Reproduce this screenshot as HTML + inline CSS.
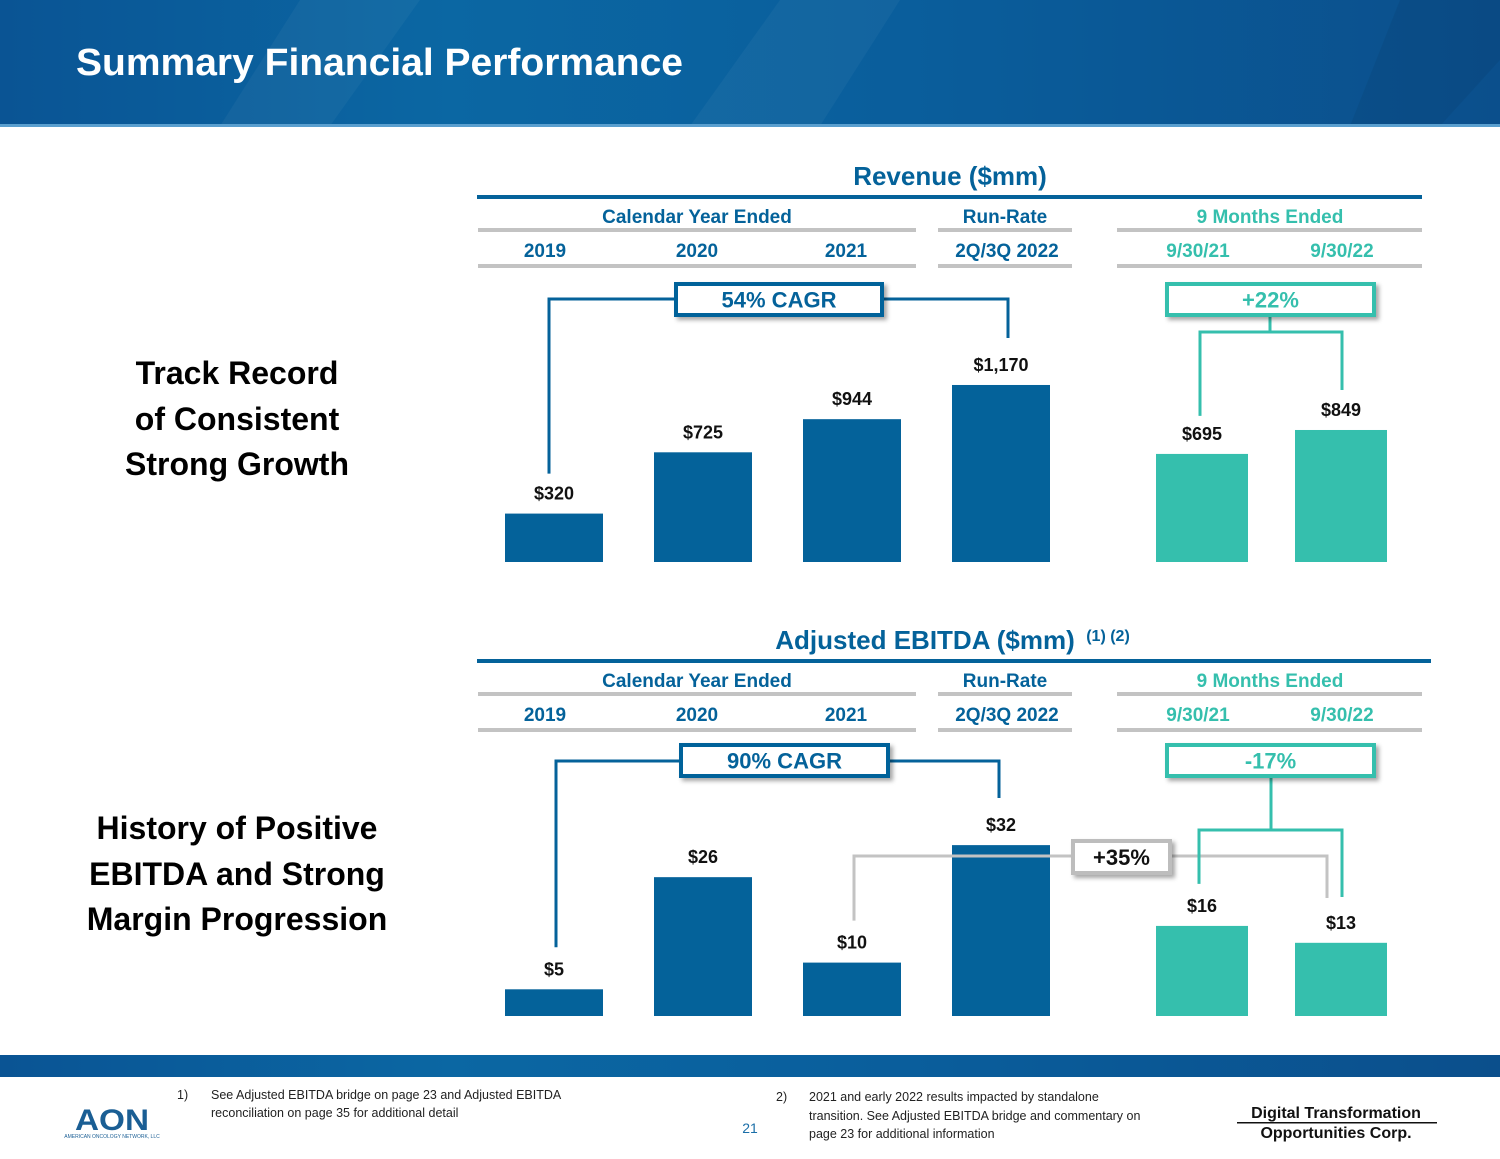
<!DOCTYPE html>
<html><head><meta charset="utf-8">
<style>
html,body{margin:0;padding:0;background:#fff;}
body{width:1500px;height:1159px;position:relative;overflow:hidden;font-family:"Liberation Sans",sans-serif;}
svg{position:absolute;left:0;top:0;}
</style></head>
<body>
<svg id="chart" width="1500" height="1159" viewBox="0 0 1500 1159" xmlns="http://www.w3.org/2000/svg">
<defs>
<linearGradient id="hdr" x1="0" y1="0" x2="1" y2="0">
<stop offset="0" stop-color="#0a5494"/><stop offset="0.3" stop-color="#0b67a3"/><stop offset="0.6" stop-color="#0a5e9c"/><stop offset="1" stop-color="#0b4f8c"/></linearGradient>
<filter id="sh" x="-10%" y="-30%" width="130%" height="170%"><feDropShadow dx="3" dy="3" stdDeviation="2" flood-color="#000" flood-opacity="0.35"/></filter>
</defs>
<rect x="0" y="0" width="1500" height="126" fill="url(#hdr)"/>
<polygon points="300,0 420,0 330,126 220,126" fill="#ffffff" opacity="0.04"/>
<polygon points="780,0 900,0 820,126 690,126" fill="#ffffff" opacity="0.04"/>
<polygon points="1400,0 1500,0 1500,60 1440,126 1350,126" fill="#000" opacity="0.05"/>
<text x="76" y="75" fill="#fff" font-size="38" font-weight="bold" textLength="607" lengthAdjust="spacingAndGlyphs">Summary Financial Performance</text>
<rect x="0" y="124" width="1500" height="3" fill="#5a9fcf"/>

<g font-weight="bold" font-size="32" fill="#000" text-anchor="middle">
<text x="237" y="384">Track Record</text>
<text x="237" y="430">of Consistent</text>
<text x="237" y="475">Strong Growth</text>
</g>
<g font-weight="bold" font-size="32" fill="#000" text-anchor="middle">
<text x="237" y="839">History of Positive</text>
<text x="237" y="885">EBITDA and Strong</text>
<text x="237" y="930">Margin Progression</text>
</g>

<g id="plot"></g>

<rect x="0" y="1055" width="1500" height="22" fill="url(#hdr)"/>
<g>
<text x="112" y="1130" text-anchor="middle" font-size="30" font-weight="bold" fill="#1a5e94" textLength="74" lengthAdjust="spacingAndGlyphs">AON</text>
<text x="112" y="1138" text-anchor="middle" font-size="5" fill="#1a5e94">AMERICAN ONCOLOGY NETWORK, LLC</text>
</g>
<g font-size="12.5" fill="#222">
<text x="177" y="1099">1)</text>
<text x="211" y="1099">See Adjusted EBITDA bridge on page 23 and Adjusted EBITDA</text>
<text x="211" y="1117">reconciliation on page 35 for additional detail</text>
</g>
<text x="750" y="1133" text-anchor="middle" font-size="14" fill="#1a6ea8">21</text>
<g font-size="12.5" fill="#222">
<text x="776" y="1101">2)</text>
<text x="809" y="1101">2021 and early 2022 results impacted by standalone</text>
<text x="809" y="1120">transition. See Adjusted EBITDA bridge and commentary on</text>
<text x="809" y="1138">page 23 for additional information</text>
</g>
<g>
<text x="1336" y="1118" text-anchor="middle" font-size="16" font-weight="bold" fill="#111">Digital Transformation</text>
<rect x="1237" y="1122" width="200" height="1.5" fill="#111"/>
<text x="1336" y="1138" text-anchor="middle" font-size="16" font-weight="bold" fill="#111">Opportunities Corp.</text>
</g>
</svg>
<script>
const revCategories = ["2019","2020","2021","2Q/3Q 2022","9/30/21","9/30/22"];
const revValues = [320,725,944,1170,695,849];
const revLabels = ["$320","$725","$944","$1,170","$695","$849"];
const ebitdaCategories = ["2019","2020","2021","2Q/3Q 2022","9/30/21","9/30/22"];
const ebitdaValues = [5,26,10,32,16,13];
const ebitdaLabels = ["$5","$26","$10","$32","$16","$13"];
const revAnnotations = ["54% CAGR","+22%"];
const ebitdaAnnotations = ["90% CAGR","-17%","+35%"];

const NS="http://www.w3.org/2000/svg";
const plot=document.getElementById('plot');
function mk(tag,attrs,parent){const e=document.createElementNS(NS,tag);for(const k in attrs)e.setAttribute(k,attrs[k]);(parent||plot).appendChild(e);return e;}
const BLUE="#04629a", TEAL="#35bfad", GRAY="#c3c3c3";
const barX=[505,654,803,952,1156,1295];
const barW=[98,98,98,98,92,92];
function xCenter(i){return barX[i]+barW[i]/2;}
function revY(v,i){return 562 - v*(i<4?0.1513:0.1555);}
function ebY(v,i){return 1016 - v*(i<4?5.34:5.63);}

function header(ruleY,title,sup){
  const g=mk('g',{});
  
  
  const t=mk('text',{x:sup?925:950,y:ruleY-10,'text-anchor':'middle','font-size':26,'font-weight':'bold',fill:BLUE},g);
  t.textContent=title;
  if(sup){const s=mk('text',{x:1108,y:ruleY-18,'text-anchor':'middle','font-size':16,'font-weight':'bold',fill:BLUE},g);s.textContent=sup;}
  mk('rect',{x:477,y:ruleY,width:sup?954:945,height:4,fill:BLUE},g);
  const sub=[["Calendar Year Ended",697,BLUE],["Run-Rate",1005,BLUE],["9 Months Ended",1270,TEAL]];
  sub.forEach(s=>{const e=mk('text',{x:s[1],y:ruleY+28,'text-anchor':'middle','font-size':19,'font-weight':'bold',fill:s[2]},g);e.textContent=s[0];});
  mk('rect',{x:478,y:ruleY+33,width:438,height:4,fill:GRAY},g);
  mk('rect',{x:938,y:ruleY+33,width:134,height:4,fill:GRAY},g);
  mk('rect',{x:1117,y:ruleY+33,width:305,height:4,fill:GRAY},g);
  mk('rect',{x:478,y:ruleY+69,width:438,height:4,fill:GRAY},g);
  mk('rect',{x:938,y:ruleY+69,width:134,height:4,fill:GRAY},g);
  mk('rect',{x:1117,y:ruleY+69,width:305,height:4,fill:GRAY},g);
}
function catLabels(cats,ruleY,name){
  const xs=[545,697,846,1007,1198,1342];
  cats.forEach((c,i)=>{const e=mk('text',{x:xs[i],y:ruleY+62,'text-anchor':'middle','font-size':19,'font-weight':'bold',fill:i<4?BLUE:TEAL});
    
    
    e.textContent=c;});
}
function bars(vals,labs,yf,name){
  vals.forEach((v,i)=>{
    const y=yf(v,i);
    const r=mk('rect',{x:barX[i],y:y,width:barW[i],height:yf(0,i)-y,fill:i<4?BLUE:TEAL});
    
    
    const t=mk('text',{x:xCenter(i),y:y-14,'text-anchor':'middle','font-size':18,'font-weight':'bold',fill:'#111'});
    
    
    t.textContent=labs[i];
  });
}
function box(x,y,w,h,color,text,tcolor,name){
  const r=mk('rect',{x:x,y:y,width:w,height:h,fill:'#fff',stroke:color,'stroke-width':4,filter:'url(#sh)'});
  
  
  const t=mk('text',{x:x+w/2,y:y+h/2+8,'text-anchor':'middle','font-size':22,'font-weight':'bold',fill:tcolor});
  
  
  t.textContent=text;
}
function line(pts,color,w){mk('polyline',{points:pts.map(p=>p.join(',')).join(' '),fill:'none',stroke:color,'stroke-width':w||3});}

// Revenue
header(195,"Revenue ($mm)",null);
catLabels(revCategories,195,'revenue');
bars(revValues,revLabels,revY,'revenue');
line([[549,revY(revValues[0],0)-40],[549,299],[1008,299],[1008,338]],BLUE);
box(676,284,206,31,BLUE,revAnnotations[0],BLUE,'revenue-cagr-box');
line([[1270,316],[1270,332]],TEAL);
line([[1200,revY(revValues[4],4)-38],[1200,332],[1342,332],[1342,revY(revValues[5],5)-40]],TEAL);
box(1167,284,207,31,TEAL,revAnnotations[1],TEAL,'revenue-growth-box');

// EBITDA
header(659,"Adjusted EBITDA ($mm)","(1) (2)");
catLabels(ebitdaCategories,659,'ebitda');
bars(ebitdaValues,ebitdaLabels,ebY,'ebitda');
line([[556,ebY(ebitdaValues[0],0)-42],[556,761],[999,761],[999,798]],BLUE);
box(681,745,207,31,BLUE,ebitdaAnnotations[0],BLUE,'ebitda-cagr-box');
line([[854,ebY(ebitdaValues[2],2)-42],[854,856],[1327,856],[1327,898]],GRAY);
line([[1271,777],[1271,830]],TEAL);
line([[1199,ebY(ebitdaValues[4],4)-42],[1199,830],[1342,830],[1342,897]],TEAL);
box(1167,745,207,31,TEAL,ebitdaAnnotations[1],TEAL,'ebitda-growth-box');
box(1073,841,97,32,'#bdbdbd',ebitdaAnnotations[2],'#111','ebitda-runrate-growth-box');
</script>
</body></html>
